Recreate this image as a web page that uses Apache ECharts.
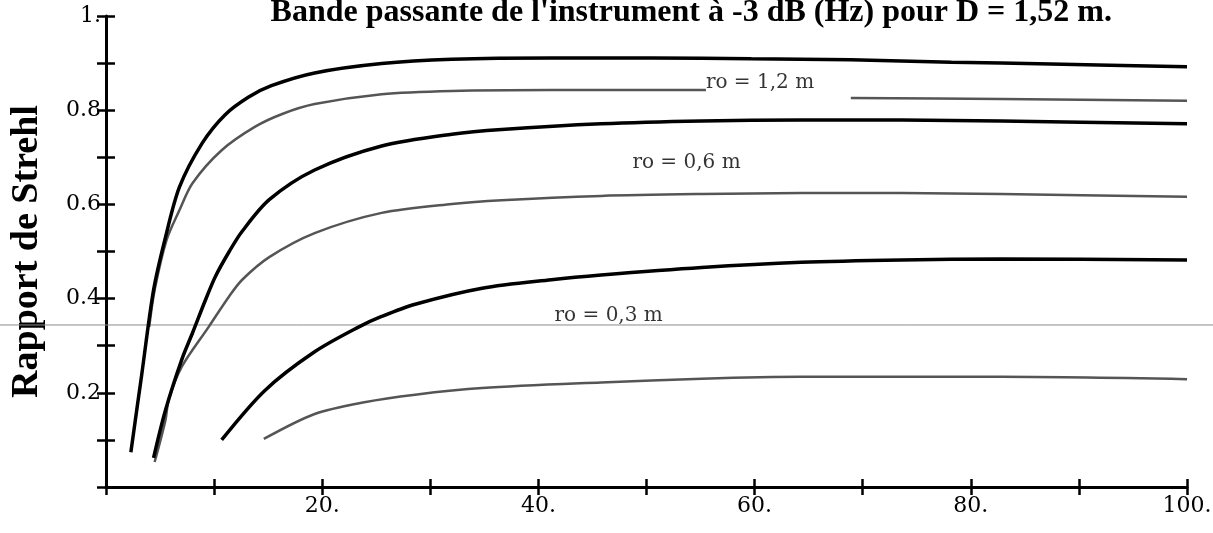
<!DOCTYPE html>
<html>
<head>
<meta charset="utf-8">
<style>
	html,body{margin:0;padding:0;background:#ffffff;}
	#strehlChart{width:1213px;height:533px;}
</style>
<script src="https://cdn.jsdelivr.net/npm/echarts@6/dist/echarts.min.js"></script>
</head>
<body>
<div id="strehlChart"></div>
<script>
	// courbes : [bande passante (Hz), rapport de Strehl]
	var ro12Solid = [[2.3,0.074],[3.3,0.238],[4.4,0.418],[5.5,0.530],[6.8,0.637],[8.9,0.730],[11.0,0.790],[13.2,0.828],[15.3,0.852],[19.3,0.879],[25.5,0.899],[32.0,0.908],[41.2,0.911],[50.5,0.911],[59.7,0.909],[68.9,0.907],[78.2,0.902],[87.4,0.898],[100,0.892]];
	var ro12Gray = [[4.0,0.340],[4.5,0.418],[5.6,0.524],[6.8,0.588],[8.0,0.645],[10.7,0.715],[13.8,0.765],[16.3,0.792],[19.3,0.813],[25.5,0.834],[32.0,0.841],[41.2,0.843],[50.5,0.843],[55.5,0.843],[62,'-'],[68.9,0.826],[82.8,0.824],[100,0.820]];
	var ro06Solid = [[4.4,0.062],[5.5,0.163],[7.0,0.270],[8.0,0.327],[9.2,0.397],[10.1,0.446],[11.4,0.500],[12.6,0.543],[15.1,0.610],[19.3,0.673],[25.5,0.724],[32.0,0.749],[36.6,0.759],[45.8,0.771],[55.1,0.777],[64.3,0.779],[73.6,0.779],[82.8,0.777],[100,0.771]];
	var ro06Gray = [[4.5,0.053],[5.5,0.142],[5.8,0.185],[7.0,0.255],[9.5,0.340],[11.4,0.405],[12.6,0.440],[15.1,0.488],[19.3,0.539],[25.5,0.582],[32.0,0.601],[36.6,0.609],[45.8,0.618],[55.1,0.622],[64.3,0.624],[73.6,0.624],[82.8,0.622],[100,0.616]];
	var ro03Solid = [[10.7,0.100],[14.7,0.205],[19.3,0.287],[23.4,0.340],[25.5,0.362],[28.6,0.388],[34.8,0.422],[41.2,0.440],[45.8,0.450],[55.1,0.466],[64.3,0.477],[73.6,0.482],[82.8,0.484],[100,0.482]];
	var ro03Gray = [[14.6,0.102],[19.3,0.155],[23.9,0.180],[28.6,0.196],[34.8,0.210],[45.8,0.222],[55.1,0.230],[64.3,0.234],[73.6,0.234],[82.8,0.234],[100,0.229]];

	var labelNames = ['ro = 1,2 m','ro = 0,6 m','ro = 0,3 m'];
	var labelX = [60.5, 53.7, 46.5];
	var labelY = [0.858, 0.688, 0.363];

	var xTicks = [20, 40, 60, 80, 100];
	var yTicks = [0.2, 0.4, 0.6, 0.8, 1];
	var scanLineY = 0.344;

	var chart = echarts.init(document.getElementById('strehlChart'));

	function xLabel(v){
		return xTicks.indexOf(Math.round(v)) >= 0 ? Math.round(v) + '.' : '';
	}
	function yLabel(v){
		var t = Math.round(v*10)/10;
		if(yTicks.indexOf(t) < 0){
			return '';
		}
		return t === 1 ? '1.' : t.toFixed(1);
	}

	var labelData = [];
	for(var i=0;i<labelNames.length;i++){
		labelData.push({name:labelNames[i], value:[labelX[i], labelY[i]]});
	}

	function curve(name, data, color, width){
		return {name:name, type:'line', data:data, showSymbol:false, smooth:0.3, lineStyle:{color:color, width:width}};
	}

	var option = {
		animation:false,
		backgroundColor:'#ffffff',
		title:{
			text:"Bande passante de l'instrument à -3 dB (Hz) pour D = 1,52 m.",
			right:101,
			top:-3,
			padding:0,
			textStyle:{
				color:'#000',
				fontFamily:'Liberation Serif',
				fontWeight:'bold',
				fontSize:32
			}
		},
		grid:{
			left:106,
			right:26,
			top:16,
			bottom:46,
			outerBoundsMode:'none'
		},
		xAxis:[
			{
				type:'value',
				min:0,
				max:100,
				interval:10,
				axisLine:{show:true, lineStyle:{color:'#000', width:3}},
				axisTick:{show:true, length:8, lineStyle:{color:'#000', width:2.5}},
				axisLabel:{formatter:xLabel, margin:8, color:'#000', fontFamily:'DejaVu Serif', fontSize:22},
				splitLine:{show:false}
			},
			{
				type:'value',
				position:'bottom',
				min:0,
				max:100,
				interval:10,
				axisLine:{show:false},
				axisTick:{show:true, inside:true, length:8, lineStyle:{color:'#000', width:2.5}},
				axisLabel:{show:false},
				splitLine:{show:false}
			}
		],
		yAxis:[
			{
				type:'value',
				min:0,
				max:1,
				interval:0.1,
				name:'Rapport de Strehl',
				nameLocation:'middle',
				nameRotate:90,
				nameGap:60,
				nameTextStyle:{color:'#000', fontFamily:'Liberation Serif', fontWeight:'bold', fontSize:38},
				axisLine:{show:true, lineStyle:{color:'#000', width:3}},
				axisTick:{show:true, length:9, lineStyle:{color:'#000', width:2.5}},
				axisLabel:{formatter:yLabel, margin:5, color:'#000', fontFamily:'DejaVu Serif', fontSize:22},
				splitLine:{show:false}
			},
			{
				type:'value',
				position:'left',
				min:0,
				max:1,
				interval:0.1,
				axisLine:{show:false},
				axisTick:{show:true, inside:true, length:9, lineStyle:{color:'#000', width:2.5}},
				axisLabel:{show:false},
				splitLine:{show:false}
			}
		],
		series:[
			curve('ro = 1,2 m gris', ro12Gray, '#555555', 2.5),
			curve('ro = 0,6 m gris', ro06Gray, '#555555', 2.5),
			curve('ro = 0,3 m gris', ro03Gray, '#555555', 2.5),
			curve('ro = 1,2 m', ro12Solid, '#000', 3.5),
			curve('ro = 0,6 m', ro06Solid, '#000', 3.5),
			curve('ro = 0,3 m', ro03Solid, '#000', 3.5),
			{
				name:'etiquettes',
				type:'scatter',
				symbolSize:0,
				data:labelData,
				label:{
					show:true,
					position:'inside',
					formatter:'{b}',
					color:'#000',
					fontFamily:'DejaVu Serif',
					fontSize:20
				},
				z:5
			}
		]
	};
	chart.setOption(option);

	// trait gris horizontal du scan, sur toute la largeur
	var scanPix = chart.convertToPixel({gridIndex:0}, [0, scanLineY]);
	chart.setOption({
		graphic:[{
			type:'line',
			shape:{x1:0, y1:scanPix[1], x2:chart.getWidth(), y2:scanPix[1]},
			style:{stroke:'#8a8a8a', lineWidth:1},
			z:1
		}]
	});
</script>
</body>
</html>
